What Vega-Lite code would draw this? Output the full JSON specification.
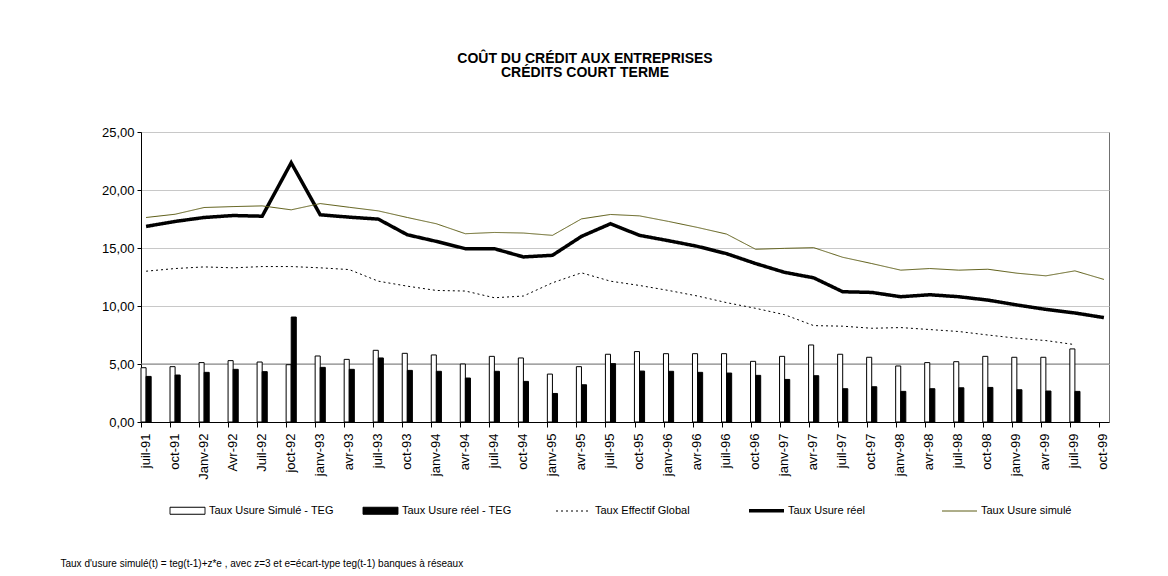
{
  "$schema": "https://vega.github.io/schema/vega-lite/v6.json",
  "width": 968,
  "height": 290,
  "autosize": "none",
  "padding": {"left": 141, "top": 132, "right": 59, "bottom": 154},
  "background": "white",
  "config": {
    "font": "Liberation Sans",
    "view": {"stroke": "#707070", "strokeWidth": 1}
  },
  "title": {
    "text": ["COÛT DU CRÉDIT AUX ENTREPRISES", "CRÉDITS COURT TERME"],
    "fontSize": 14,
    "fontWeight": "bold",
    "anchor": "middle",
    "dx": -40,
    "offset": 46,
    "lineHeight": 14.5,
    "color": "black"
  },
  "data": {
    "values": [
      {"d": "juil-91", "Taux Usure Simulé - TEG": 4.68, "Taux Usure réel - TEG": 3.93, "Taux Effectif Global": 13.0, "Taux Usure réel": 16.86, "Taux Usure simulé": 17.63},
      {"d": "oct-91", "Taux Usure Simulé - TEG": 4.77, "Taux Usure réel - TEG": 4.05, "Taux Effectif Global": 13.23, "Taux Usure réel": 17.29, "Taux Usure simulé": 17.91},
      {"d": "Janv-92", "Taux Usure Simulé - TEG": 5.12, "Taux Usure réel - TEG": 4.28, "Taux Effectif Global": 13.37, "Taux Usure réel": 17.63, "Taux Usure simulé": 18.49},
      {"d": "Avr-92", "Taux Usure Simulé - TEG": 5.29, "Taux Usure réel - TEG": 4.54, "Taux Effectif Global": 13.29, "Taux Usure réel": 17.8, "Taux Usure simulé": 18.57},
      {"d": "Juil-92", "Taux Usure Simulé - TEG": 5.17, "Taux Usure réel - TEG": 4.34, "Taux Effectif Global": 13.4, "Taux Usure réel": 17.74, "Taux Usure simulé": 18.63},
      {"d": "joct-92", "Taux Usure Simulé - TEG": 4.94, "Taux Usure réel - TEG": 9.05, "Taux Effectif Global": 13.4, "Taux Usure réel": 22.35, "Taux Usure simulé": 18.29},
      {"d": "janv-93", "Taux Usure Simulé - TEG": 5.69, "Taux Usure réel - TEG": 4.71, "Taux Effectif Global": 13.29, "Taux Usure réel": 17.86, "Taux Usure simulé": 18.83},
      {"d": "avr-93", "Taux Usure Simulé - TEG": 5.4, "Taux Usure réel - TEG": 4.54, "Taux Effectif Global": 13.14, "Taux Usure réel": 17.66, "Taux Usure simulé": 18.51},
      {"d": "juil-93", "Taux Usure Simulé - TEG": 6.18, "Taux Usure réel - TEG": 5.52, "Taux Effectif Global": 12.14, "Taux Usure réel": 17.49, "Taux Usure simulé": 18.2},
      {"d": "oct-93", "Taux Usure Simulé - TEG": 5.92, "Taux Usure réel - TEG": 4.45, "Taux Effectif Global": 11.71, "Taux Usure réel": 16.14, "Taux Usure simulé": 17.63},
      {"d": "janv-94", "Taux Usure Simulé - TEG": 5.78, "Taux Usure réel - TEG": 4.37, "Taux Effectif Global": 11.34, "Taux Usure réel": 15.57, "Taux Usure simulé": 17.09},
      {"d": "avr-94", "Taux Usure Simulé - TEG": 5.0, "Taux Usure réel - TEG": 3.79, "Taux Effectif Global": 11.29, "Taux Usure réel": 14.94, "Taux Usure simulé": 16.23},
      {"d": "juil-94", "Taux Usure Simulé - TEG": 5.66, "Taux Usure réel - TEG": 4.37, "Taux Effectif Global": 10.71, "Taux Usure réel": 14.94, "Taux Usure simulé": 16.34},
      {"d": "oct-94", "Taux Usure Simulé - TEG": 5.52, "Taux Usure réel - TEG": 3.5, "Taux Effectif Global": 10.86, "Taux Usure réel": 14.23, "Taux Usure simulé": 16.29},
      {"d": "janv-95", "Taux Usure Simulé - TEG": 4.13, "Taux Usure réel - TEG": 2.46, "Taux Effectif Global": 12.0, "Taux Usure réel": 14.37, "Taux Usure simulé": 16.09},
      {"d": "avr-95", "Taux Usure Simulé - TEG": 4.77, "Taux Usure réel - TEG": 3.21, "Taux Effectif Global": 12.86, "Taux Usure réel": 16.0, "Taux Usure simulé": 17.51},
      {"d": "juil-95", "Taux Usure Simulé - TEG": 5.84, "Taux Usure réel - TEG": 5.03, "Taux Effectif Global": 12.14, "Taux Usure réel": 17.09, "Taux Usure simulé": 17.89},
      {"d": "oct-95", "Taux Usure Simulé - TEG": 6.07, "Taux Usure réel - TEG": 4.39, "Taux Effectif Global": 11.77, "Taux Usure réel": 16.09, "Taux Usure simulé": 17.77},
      {"d": "janv-96", "Taux Usure Simulé - TEG": 5.89, "Taux Usure réel - TEG": 4.37, "Taux Effectif Global": 11.34, "Taux Usure réel": 15.63, "Taux Usure simulé": 17.29},
      {"d": "avr-96", "Taux Usure Simulé - TEG": 5.89, "Taux Usure réel - TEG": 4.28, "Taux Effectif Global": 10.86, "Taux Usure réel": 15.14, "Taux Usure simulé": 16.77},
      {"d": "juil-96", "Taux Usure Simulé - TEG": 5.89, "Taux Usure réel - TEG": 4.22, "Taux Effectif Global": 10.29, "Taux Usure réel": 14.51, "Taux Usure simulé": 16.2},
      {"d": "oct-96", "Taux Usure Simulé - TEG": 5.23, "Taux Usure réel - TEG": 4.02, "Taux Effectif Global": 9.8, "Taux Usure réel": 13.66, "Taux Usure simulé": 14.89},
      {"d": "janv-97", "Taux Usure Simulé - TEG": 5.66, "Taux Usure réel - TEG": 3.67, "Taux Effectif Global": 9.25, "Taux Usure réel": 12.9, "Taux Usure simulé": 14.97},
      {"d": "avr-97", "Taux Usure Simulé - TEG": 6.64, "Taux Usure réel - TEG": 3.99, "Taux Effectif Global": 8.31, "Taux Usure réel": 12.43, "Taux Usure simulé": 15.03},
      {"d": "juil-97", "Taux Usure Simulé - TEG": 5.84, "Taux Usure réel - TEG": 2.87, "Taux Effectif Global": 8.26, "Taux Usure réel": 11.23, "Taux Usure simulé": 14.2},
      {"d": "oct-97", "Taux Usure Simulé - TEG": 5.58, "Taux Usure réel - TEG": 3.04, "Taux Effectif Global": 8.08, "Taux Usure réel": 11.17, "Taux Usure simulé": 13.66},
      {"d": "janv-98", "Taux Usure Simulé - TEG": 4.83, "Taux Usure réel - TEG": 2.64, "Taux Effectif Global": 8.14, "Taux Usure réel": 10.8, "Taux Usure simulé": 13.09},
      {"d": "avr-98", "Taux Usure Simulé - TEG": 5.12, "Taux Usure réel - TEG": 2.87, "Taux Effectif Global": 7.97, "Taux Usure réel": 10.97, "Taux Usure simulé": 13.23},
      {"d": "juil-98", "Taux Usure Simulé - TEG": 5.2, "Taux Usure réel - TEG": 2.95, "Taux Effectif Global": 7.8, "Taux Usure réel": 10.8, "Taux Usure simulé": 13.09},
      {"d": "oct-98", "Taux Usure Simulé - TEG": 5.66, "Taux Usure réel - TEG": 2.98, "Taux Effectif Global": 7.5, "Taux Usure réel": 10.51, "Taux Usure simulé": 13.17},
      {"d": "janv-99", "Taux Usure Simulé - TEG": 5.58, "Taux Usure réel - TEG": 2.78, "Taux Effectif Global": 7.22, "Taux Usure réel": 10.09, "Taux Usure simulé": 12.83},
      {"d": "avr-99", "Taux Usure Simulé - TEG": 5.58, "Taux Usure réel - TEG": 2.67, "Taux Effectif Global": 7.02, "Taux Usure réel": 9.71, "Taux Usure simulé": 12.6},
      {"d": "juil-99", "Taux Usure Simulé - TEG": 6.3, "Taux Usure réel - TEG": 2.64, "Taux Effectif Global": 6.67, "Taux Usure réel": 9.4, "Taux Usure simulé": 13.03},
      {"d": "oct-99", "Taux Usure réel": 9.0, "Taux Usure simulé": 12.29}
    ]
  },
  "transform": [
    {"fold": ["Taux Usure Simulé - TEG", "Taux Usure réel - TEG", "Taux Effectif Global", "Taux Usure réel", "Taux Usure simulé"], "as": ["serie", "valeur"]},
    {"filter": "isValid(datum.valeur)"}
  ],
  "layer": [
    {
      "data": {"values": [{}]},
      "mark": {"type": "rule", "color": "#808080", "strokeWidth": 1},
      "encoding": {"y": {"datum": 5, "type": "quantitative"}}
    },
    {
      "transform": [{"filter": {"field": "serie", "oneOf": ["Taux Usure Simulé - TEG", "Taux Usure réel - TEG"]}}],
      "mark": {"type": "bar", "strokeWidth": 1},
      "encoding": {
        "x": {
          "field": "d", "type": "nominal", "sort": null,
          "scale": {"paddingInner": 0.65, "paddingOuter": 0},
          "axis": {
            "title": "Taux d'usure simulé(t)  = teg(t-1)+z*e , avec z=3 et e=écart-type teg(t-1) banques à réseaux",
            "titleFontSize": 10, "titleFontWeight": "normal", "titleColor": "black",
            "titleAnchor": "start", "titleAlign": "left", "titleX": -81, "titleY": 144, "titleBaseline": "alphabetic",
            "labelAngle": 270, "labelFontSize": 13, "labelColor": "black", "labelAlign": "right", "labelBaseline": "middle",
            "labelPadding": 6, "labelOverlap": false, "domainColor": "black", "tickColor": "black", "tickSize": 5,
            "tickOffset": -5, "labelOffset": 4, "grid": false
          }
        },
        "xOffset": {"field": "serie", "type": "nominal", "sort": null, "scale": {"domain": ["Taux Usure Simulé - TEG", "Taux Usure réel - TEG"], "paddingInner": 0, "paddingOuter": 0}},
        "y": {
          "field": "valeur", "type": "quantitative", "scale": {"domain": [0, 25], "nice": false},
          "axis": {
            "values": [0, 5, 10, 15, 20, 25], "title": null,
            "labelExpr": "replace(format(datum.value, '.2f'), '.', ',')",
            "labelFontSize": 13, "labelColor": "black", "labelPadding": 3,
            "domainColor": "black", "tickColor": "black", "tickSize": 4,
            "grid": true, "gridColor": "#c8c8c8"
          }
        },
        "fill": {
          "field": "serie", "type": "nominal",
          "scale": {"domain": ["Taux Usure Simulé - TEG", "Taux Usure réel - TEG", "Taux Effectif Global", "Taux Usure réel", "Taux Usure simulé"], "range": ["white", "black", "transparent", "transparent", "transparent"]},
          "legend": {"title": null, "orient": "none", "legendX": 27, "legendY": 359, "direction": "horizontal", "columns": 5, "gridAlign": "all", "symbolSize": 1225, "labelFontSize": 11, "labelColor": "black", "labelOffset": 2, "columnPadding": 22, "symbolOpacity": 1, "labelLimit": 300}
        },
        "stroke": {
          "field": "serie", "type": "nominal",
          "scale": {"domain": ["Taux Usure Simulé - TEG", "Taux Usure réel - TEG", "Taux Effectif Global", "Taux Usure réel", "Taux Usure simulé"], "range": ["black", "black", "black", "black", "#5c5c14"]}
        }
      }
    },
    {
      "transform": [{"filter": {"field": "serie", "oneOf": ["Taux Effectif Global", "Taux Usure réel", "Taux Usure simulé"]}}],
      "mark": {"type": "line", "strokeJoin": "miter"},
      "encoding": {
        "x": {"field": "d", "type": "nominal", "sort": null},
        "y": {"field": "valeur", "type": "quantitative"},
        "stroke": {"field": "serie", "type": "nominal"},
        "strokeDash": {
          "field": "serie", "type": "nominal",
          "scale": {"domain": ["Taux Usure Simulé - TEG", "Taux Usure réel - TEG", "Taux Effectif Global", "Taux Usure réel", "Taux Usure simulé"], "range": [[1, 0], [1, 0], [2, 3], [1, 0], [1, 0]]}
        },
        "strokeWidth": {
          "field": "serie", "type": "nominal",
          "scale": {"type": "ordinal", "domain": ["Taux Usure Simulé - TEG", "Taux Usure réel - TEG", "Taux Effectif Global", "Taux Usure réel", "Taux Usure simulé"], "range": [1, 1, 1, 3.5, 1]}
        }
      }
    },
    {
      "mark": {"type": "point", "opacity": 0},
      "encoding": {
        "x": {"field": "d", "type": "nominal", "sort": null},
        "y": {"field": "valeur", "type": "quantitative"},
        "shape": {
          "field": "serie", "type": "nominal",
          "scale": {"domain": ["Taux Usure Simulé - TEG", "Taux Usure réel - TEG", "Taux Effectif Global", "Taux Usure réel", "Taux Usure simulé"], "range": ["M-1,-0.2H1V0.2H-1Z", "M-1,-0.2H1V0.2H-1Z", "M-1,0H1", "M-1,0H1", "M-1,0H1"]}
        },
        "fill": {"field": "serie", "type": "nominal"},
        "stroke": {"field": "serie", "type": "nominal"},
        "strokeDash": {"field": "serie", "type": "nominal"}
      }
    }
  ]
}
